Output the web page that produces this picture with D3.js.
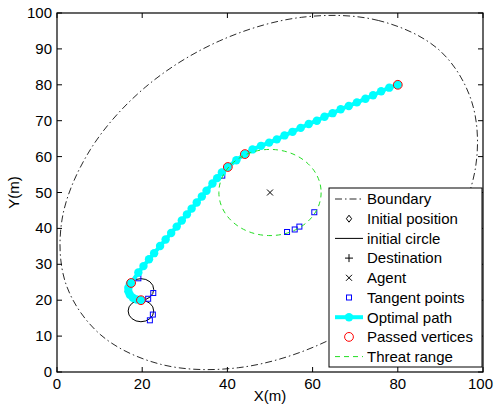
<!DOCTYPE html>
<html>
<head>
<meta charset="utf-8">
<script src="https://cdn.jsdelivr.net/npm/d3@7"></script>
<style>
  html, body { margin: 0; padding: 0; background: #fff; }
  svg { display: block; font-family: "Liberation Sans", Arial, sans-serif; }
</style>
</head>
<body>
<svg id="chart" width="494" height="405"></svg>
<script>
// ---- data (metres) ----
const xTicks = [0, 20, 40, 60, 80, 100];
const yTicks = [0, 10, 20, 30, 40, 50, 60, 70, 80, 90, 100];

// closed boundary of the working area
const boundary = [
  [89.7, 89.7], [75.5, 97.9], [57.4, 98.8], [38.1, 92.2], [20.7, 79.3],
  [7.8, 61.9], [1.2, 42.6], [2.1, 24.5], [10.3, 10.3], [24.5, 2.1],
  [42.6, 1.2], [61.9, 7.8], [79.3, 20.7], [92.2, 38.1], [98.3, 57.4], [97.3, 75.5]
];

const initialPosition = [19.7, 20.0];
const initialCircles = [[19.7, 23.0], [19.7, 17.0]];  // centres
const initialRadius = 3;
const destination = [80, 80];
const agent = [50, 50];
const threatRadius = 12;

const tangentPoints = [
  [22.6, 22.0], [21.4, 20.4], [22.5, 16.0], [21.8, 14.4], [19.1, 26.1],
  [38.8, 54.7], [60.4, 44.5], [56.9, 40.5], [55.8, 39.7], [54.0, 39.0]
];

const optimalPath = [
  [19.7, 20.0], [18.7, 20.2], [17.8, 20.7], [17.1, 21.5], [16.75, 22.5],
  [16.75, 23.5], [17.1, 24.5], [17.4, 24.8],
  [19.1, 27.7], [20.3, 29.5], [21.6, 31.4], [22.8, 33.1], [24.2, 35.1],
  [25.5, 36.9], [26.8, 38.7], [28.1, 40.5], [29.3, 42.2], [30.5, 43.9],
  [31.6, 45.5], [32.8, 47.2], [34.0, 48.9], [35.1, 50.5], [36.5, 52.5],
  [37.6, 54.0], [38.7, 55.6], [40.1, 57.1],
  [42.1, 59.0], [44.1, 60.7],
  [45.9, 62.0], [47.9, 63.0], [49.8, 63.9], [51.6, 64.8], [53.4, 65.9],
  [55.3, 66.9], [57.2, 68.0], [59.1, 69.1], [61.0, 70.0], [62.8, 71.1],
  [64.7, 72.1], [66.6, 73.2], [68.5, 74.1], [70.4, 75.1], [72.4, 76.1],
  [74.2, 77.1], [76.1, 78.2], [78.0, 79.2], [80.0, 80.0]
];

const passedVertices = [[19.7, 20.0], [17.4, 24.8], [40.1, 57.1], [44.1, 60.7], [80.0, 80.0]];

const legendLabels = ["Boundary", "Initial position", "initial circle", "Destination",
  "Agent", "Tangent points", "Optimal path", "Passed vertices", "Threat range"];

// ---- layout ----
const svg = d3.select("#chart");
const plot = { left: 57, right: 483, top: 13, bottom: 372 };
const x = d3.scaleLinear().domain([0, 100]).range([plot.left, plot.right]);
const y = d3.scaleLinear().domain([0, 100]).range([plot.bottom, plot.top]);

const cyan = "#00ffff", green = "#22dd22", red = "#ff0000", blue = "#0000ff";
const dashDot = "7,3,1.5,3";

const g = svg.append("g");

// boundary
g.append("path")
  .attr("d", d3.line().x(d => x(d[0])).y(d => y(d[1])).curve(d3.curveCatmullRomClosed)(boundary))
  .attr("fill", "none").attr("stroke", "#111").attr("stroke-width", 0.9)
  .attr("stroke-dasharray", dashDot);

// symbol helpers
function diamond(sel, cx, cy, s) {
  sel.append("path")
    .attr("d", `M${cx},${cy - s}L${cx + s * 0.75},${cy}L${cx},${cy + s}L${cx - s * 0.75},${cy}Z`)
    .attr("fill", "none").attr("stroke", "#000").attr("stroke-width", 1);
}
function plus(sel, cx, cy, s) {
  sel.append("path").attr("d", `M${cx - s},${cy}H${cx + s}M${cx},${cy - s}V${cy + s}`)
    .attr("stroke", "#000").attr("stroke-width", 1);
}
function cross(sel, cx, cy, s) {
  sel.append("path").attr("d", `M${cx - s},${cy - s}L${cx + s},${cy + s}M${cx - s},${cy + s}L${cx + s},${cy - s}`)
    .attr("stroke", "#000").attr("stroke-width", 1);
}
function square(sel, cx, cy, s) {
  sel.append("rect").attr("x", cx - s).attr("y", cy - s).attr("width", 2 * s).attr("height", 2 * s)
    .attr("fill", "none").attr("stroke", blue).attr("stroke-width", 1);
}

// initial position
diamond(g, x(initialPosition[0]), y(initialPosition[1]), 3.5);

// initial circles
g.selectAll("ellipse.init").data(initialCircles).join("ellipse")
  .attr("cx", d => x(d[0])).attr("cy", d => y(d[1]))
  .attr("rx", x(initialRadius) - x(0)).attr("ry", y(0) - y(initialRadius))
  .attr("fill", "none").attr("stroke", "#000").attr("stroke-width", 1);

// destination & agent
plus(g, x(destination[0]), y(destination[1]), 4);
cross(g, x(agent[0]), y(agent[1]), 3);

// tangent points
tangentPoints.forEach(d => square(g, x(d[0]), y(d[1]), 2.5));

// optimal path
g.append("path")
  .attr("d", d3.line().x(d => x(d[0])).y(d => y(d[1]))(optimalPath))
  .attr("fill", "none").attr("stroke", cyan).attr("stroke-width", 4)
  .attr("stroke-linejoin", "round");
g.selectAll("circle.pt").data(optimalPath).join("circle")
  .attr("cx", d => x(d[0])).attr("cy", d => y(d[1])).attr("r", 4.2)
  .attr("fill", cyan);

// passed vertices
g.selectAll("circle.pv").data(passedVertices).join("circle")
  .attr("cx", d => x(d[0])).attr("cy", d => y(d[1])).attr("r", 4.4)
  .attr("fill", "none").attr("stroke", red).attr("stroke-width", 1);

// threat range
g.append("ellipse")
  .attr("cx", x(agent[0])).attr("cy", y(agent[1]))
  .attr("rx", x(threatRadius) - x(0)).attr("ry", y(0) - y(threatRadius))
  .attr("fill", "none").attr("stroke", green).attr("stroke-width", 1)
  .attr("stroke-dasharray", "5,4");

// ---- axes box & ticks ----
const ax = svg.append("g");
ax.append("rect").attr("x", plot.left).attr("y", plot.top)
  .attr("width", plot.right - plot.left).attr("height", plot.bottom - plot.top)
  .attr("fill", "none").attr("stroke", "#000").attr("stroke-width", 1.2);

const tl = 5;
const lastX = xTicks[xTicks.length - 1];
xTicks.forEach(t => {
  ax.append("path").attr("d", `M${x(t)},${plot.bottom}v${-tl}M${x(t)},${plot.top}v${tl}`)
    .attr("stroke", "#000").attr("stroke-width", 1);
  // the last label is kept inside the page edge
  const isLast = t === lastX;
  ax.append("text").attr("x", isLast ? 493 : x(t)).attr("y", plot.bottom + 17)
    .attr("text-anchor", isLast ? "end" : "middle").attr("font-size", 15).text(t);
});
yTicks.forEach(t => {
  ax.append("path").attr("d", `M${plot.left},${y(t)}h${tl}M${plot.right},${y(t)}h${-tl}`)
    .attr("stroke", "#000").attr("stroke-width", 1);
  ax.append("text").attr("x", plot.left - 5).attr("y", y(t) + 5)
    .attr("text-anchor", "end").attr("font-size", 15).text(t);
});

ax.append("text").attr("x", (plot.left + plot.right) / 2).attr("y", 401)
  .attr("text-anchor", "middle").attr("font-size", 15).text("X(m)");
ax.append("text").attr("transform", `translate(19,${(plot.top + plot.bottom) / 2}) rotate(-90)`)
  .attr("text-anchor", "middle").attr("font-size", 15).text("Y(m)");

// ---- legend ----
const lg = svg.append("g");
const box = { x: 329, y: 188, w: 153, h: 179 };
lg.append("rect").attr("x", box.x).attr("y", box.y).attr("width", box.w).attr("height", box.h)
  .attr("fill", "#fff").attr("stroke", "#000").attr("stroke-width", 1);

const rowY = i => 199 + i * 19.7;
const sx0 = 335, sx1 = 363, sxm = 349;
legendLabels.forEach((label, i) => {
  const cy = rowY(i);
  lg.append("text").attr("x", 367).attr("y", cy + 5.3).attr("font-size", 15).text(label);
});
// samples
lg.append("path").attr("d", `M${sx0},${rowY(0)}H${sx1}`).attr("stroke", "#111")
  .attr("stroke-width", 0.9).attr("stroke-dasharray", dashDot);
diamond(lg, sxm, rowY(1), 3.5);
lg.append("path").attr("d", `M${sx0},${rowY(2)}H${sx1}`).attr("stroke", "#000").attr("stroke-width", 1);
plus(lg, sxm, rowY(3), 4);
cross(lg, sxm, rowY(4), 3);
square(lg, sxm, rowY(5), 2.5);
lg.append("path").attr("d", `M${sx0},${rowY(6)}H${sx1}`).attr("stroke", cyan).attr("stroke-width", 4);
lg.append("circle").attr("cx", sxm).attr("cy", rowY(6)).attr("r", 4.2).attr("fill", cyan);
lg.append("circle").attr("cx", sxm).attr("cy", rowY(7)).attr("r", 4.4)
  .attr("fill", "none").attr("stroke", red).attr("stroke-width", 1);
lg.append("path").attr("d", `M${sx0},${rowY(8)}H${sx1}`).attr("stroke", green)
  .attr("stroke-width", 1).attr("stroke-dasharray", "5,4");
</script>
</body>
</html>
